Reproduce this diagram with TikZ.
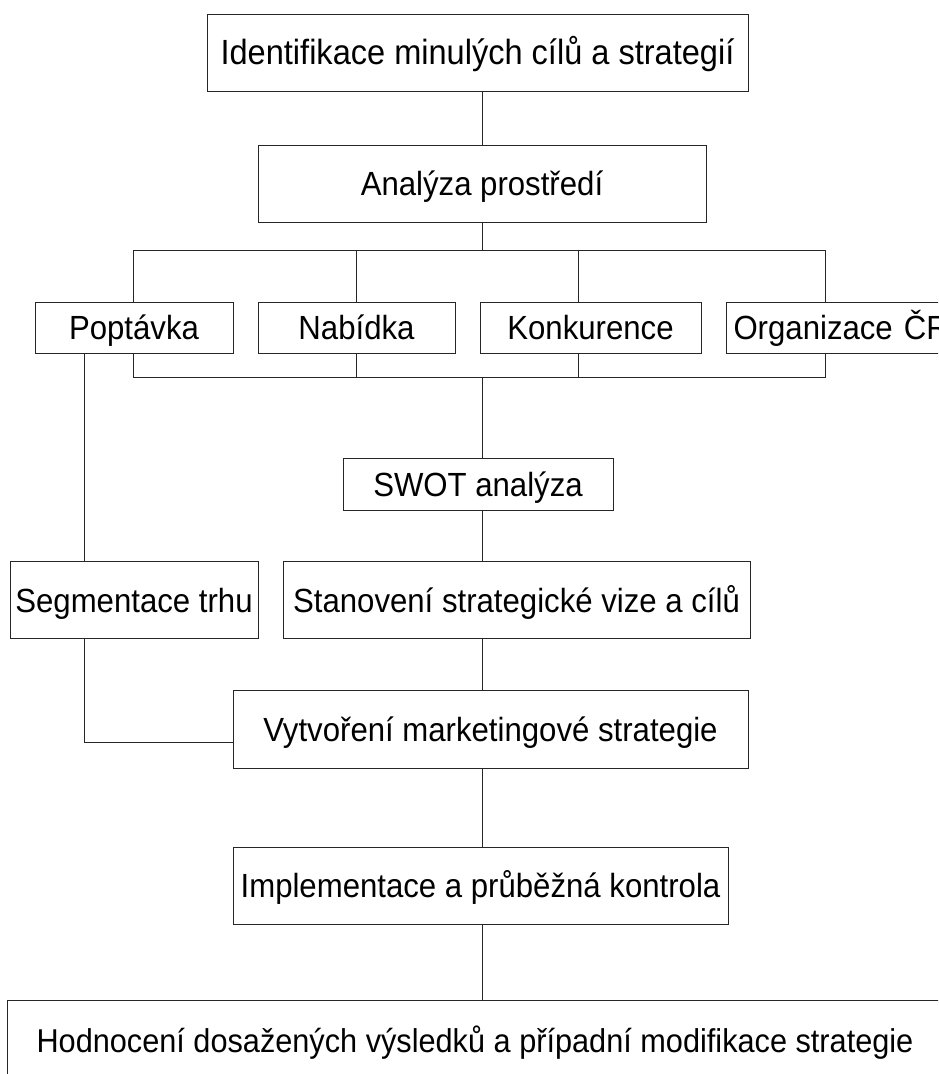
\documentclass[tikz,border=0pt]{standalone}
\usepackage{fontspec}
\setmainfont[FakeStretch=0.93]{Liberation Sans}
\begin{document}
\begin{tikzpicture}[x=1pt,y=-1pt,
  box/.style={draw=black!85, line width=1pt, rectangle, inner sep=0pt, align=center,
    font=\fontsize{33.5}{40}\selectfont, text height=30pt, text depth=6pt},
  big/.style={font=\fontsize{35}{42}\selectfont},
  wide/.style={font=\fontsize{33}{40}\selectfont},
  conn/.style={draw=black!85, line width=1pt}]
\useasboundingbox (0,0) rectangle (938,1074);
\clip (0,0) rectangle (938,1074);

% boxes
\node[box, big, minimum width=541, minimum height=77] (b1) at (477.5,52.5) {Identifikace minulých cílů a strategií};
\node[box, minimum width=448, minimum height=77] (b2)   at (482,183.5)  {Analýza prostředí};
\node[box, minimum width=198, minimum height=51] (pop)  at (134,327.5)  {Poptávka};
\node[box, minimum width=197, minimum height=51] (nab)  at (356.5,327.5){Nabídka};
\node[box, minimum width=221, minimum height=51] (kon)  at (590.5,327.5){Konkurence};
\node[box, anchor=west, minimum height=51, inner xsep=7pt, text width=226, align=left] (org) at (726,327.5) {Organizace ČR};
\node[box, minimum width=270, minimum height=52] (swot) at (478,484)    {SWOT analýza};
\node[box, minimum width=248, minimum height=77] (seg)  at (134,600)    {Segmentace trhu};
\node[box, minimum width=467, minimum height=77] (stan) at (516.5,600)  {Stanovení strategické vize a cílů};
\node[box, minimum width=515, minimum height=78] (vyt)  at (490.5,729)  {Vytvoření marketingové strategie};
\node[box, minimum width=495, minimum height=77] (imp)  at (480.5,885.5){Implementace a průběžná kontrola};
\node[box, wide, minimum width=935, minimum height=80] (hod) at (475,1040) {Hodnocení dosažených výsledků a případní modifikace strategie};

% junction points of the connector network
\coordinate (spine) at (482,250);
\coordinate (tl) at (133,250);
\coordinate (tk) at (578,250);
\coordinate (tr) at (825,250);
\coordinate (bl) at (133,377);
\coordinate (bk) at (578,377);
\coordinate (br) at (825,377);
\coordinate (sx) at (84,742);

% main spine
\draw[conn] (spine |- b1.south) -- (b2.north);
\draw[conn] (b2.south) -- (spine);
\draw[conn] (tl) -- (tr);
\draw[conn] (tl) -- (tl |- pop.north);
\draw[conn] (nab.north |- tl) -- (nab.north);
\draw[conn] (tk) -- (tk |- kon.north);
\draw[conn] (tr) -- (tr |- org.north);

\draw[conn] (bl |- pop.south) -- (bl) -- (br) -- (br |- org.south);
\draw[conn] (nab.south) -- (nab.south |- bl);
\draw[conn] (bk |- kon.south) -- (bk);
\draw[conn] (spine |- bl) -- (spine |- swot.north);
\draw[conn] (spine |- swot.south) -- (spine |- stan.north);
\draw[conn] (spine |- stan.south) -- (spine |- vyt.north);
\draw[conn] (spine |- vyt.south) -- (spine |- imp.north);
\draw[conn] (spine |- imp.south) -- (spine |- hod.north);

% market segmentation branch
\draw[conn] (sx |- pop.south) -- (sx |- seg.north);
\draw[conn] (sx |- seg.south) -- (sx) -- (sx -| vyt.west);
\end{tikzpicture}
\end{document}
